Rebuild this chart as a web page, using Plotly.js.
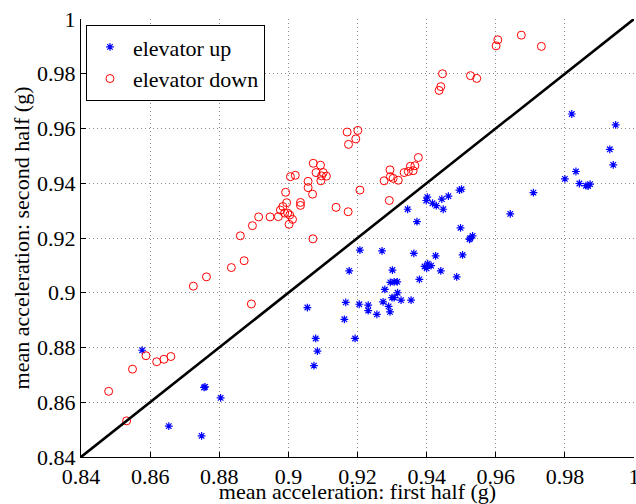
<!DOCTYPE html>
<html>
<head>
<meta charset="utf-8">
<script src="https://cdn.plot.ly/plotly-3.0.1.min.js"></script>
<style>
  html, body { margin: 0; padding: 0; background: #fff; }
  #chart { width: 636px; height: 504px; }
</style>
</head>
<body>
<div id="chart"></div>
<script>
// Mean acceleration in the first vs. second half of each elevator ride (g)
const upFirst = [
  0.8577, 0.8756, 0.8759, 0.8804, 0.8654, 0.8749, 0.9055, 0.9079, 0.9084, 0.9074,
  0.9176, 0.9166, 0.9162, 0.9193, 0.9205, 0.9231, 0.9231, 0.9256, 0.9274, 0.9279,
  0.9290, 0.9294, 0.9301, 0.9295, 0.9306, 0.9315, 0.9300, 0.9306, 0.9316, 0.9326,
  0.9355, 0.9379, 0.9400, 0.9403, 0.9413, 0.9394, 0.9426, 0.9441, 0.9487, 0.9504,
  0.9363, 0.9271, 0.9207, 0.9345, 0.9372, 0.9399, 0.9402, 0.9417, 0.9428, 0.9448,
  0.9444, 0.9463, 0.9495, 0.9501, 0.9498, 0.9526, 0.9533, 0.9524, 0.9642, 0.9709,
  0.9800, 0.9820, 0.9832, 0.9842, 0.9861, 0.9873, 0.9867, 0.9930, 0.9940, 0.9947
];
const upSecond = [
  0.8790, 0.8654, 0.8656, 0.8616, 0.8513, 0.8477, 0.8946, 0.8833, 0.8787, 0.8734,
  0.9080, 0.8965, 0.8903, 0.8833, 0.8958, 0.8955, 0.8935, 0.8921, 0.8967, 0.9012,
  0.8950, 0.8930, 0.9083, 0.9038, 0.9040, 0.9040, 0.8982, 0.8982, 0.9000, 0.8973,
  0.8973, 0.9049, 0.9089, 0.9106, 0.9099, 0.9096, 0.9135, 0.9080, 0.9058, 0.9138,
  0.9144, 0.9153, 0.9156, 0.9305, 0.9260, 0.9337, 0.9349, 0.9327, 0.9318, 0.9305,
  0.9342, 0.9353, 0.9375, 0.9378, 0.9237, 0.9199, 0.9208, 0.9195, 0.9288, 0.9366,
  0.9416, 0.9653, 0.9443, 0.9399, 0.9391, 0.9397, 0.9390, 0.9524, 0.9467, 0.9613
];
const downFirst = [
  0.8480, 0.8532, 0.8549, 0.8588, 0.8619, 0.8640, 0.8660, 0.8725, 0.8763, 0.8835,
  0.8872, 0.8893, 0.8861, 0.8896, 0.8914, 0.8947, 0.8971, 0.8977, 0.8984, 0.8995,
  0.8989, 0.8998, 0.9004, 0.9002, 0.9012, 0.8992, 0.9006, 0.9020, 0.9035, 0.9035,
  0.9057, 0.9057, 0.9070, 0.9072, 0.9080, 0.9071, 0.9093, 0.9101, 0.9110, 0.9096,
  0.9094, 0.9138, 0.9173, 0.9170, 0.9201, 0.9195, 0.9174, 0.9207, 0.9277, 0.9294,
  0.9295, 0.9303, 0.9318, 0.9292, 0.9335, 0.9347, 0.9353, 0.9366, 0.9361, 0.9376,
  0.9446, 0.9441, 0.9436, 0.9527, 0.9545, 0.9606, 0.9601, 0.9674, 0.9732
];
const downSecond = [
  0.8640, 0.8532, 0.8721, 0.8770, 0.8748, 0.8757, 0.8767, 0.9024, 0.9058, 0.9092,
  0.9117, 0.8959, 0.9208, 0.9245, 0.9277, 0.9277, 0.9278, 0.9302, 0.9315, 0.9329,
  0.9291, 0.9291, 0.9284, 0.9250, 0.9268, 0.9367, 0.9424, 0.9429, 0.9330, 0.9319,
  0.9407, 0.9384, 0.9360, 0.9473, 0.9439, 0.9197, 0.9466, 0.9439, 0.9426, 0.9427,
  0.9409, 0.9312, 0.9296, 0.9587, 0.9593, 0.9562, 0.9542, 0.9375, 0.9409, 0.9449,
  0.9424, 0.9418, 0.9411, 0.9337, 0.9439, 0.9443, 0.9462, 0.9464, 0.9446, 0.9494,
  0.9800, 0.9753, 0.9739, 0.9793, 0.9783, 0.9924, 0.9902, 0.9941, 0.9900
];
// y = x reference line
const equalX = [0.84, 1.0];
const equalY = [0.84, 1.0];

const tickValues = [0.84, 0.86, 0.88, 0.9, 0.92, 0.94, 0.96, 0.98, 1.0];
const tickLabels = ['0.84', '0.86', '0.88', '0.9', '0.92', '0.94', '0.96', '0.98', '1'];

const serif = { family: '"Liberation Serif", "Times New Roman", serif', size: 22, color: '#000' };

const traces = [
  {
    x: upFirst, y: upSecond, type: 'scatter', mode: 'markers', name: 'elevator up',
    marker: { symbol: 'asterisk-open', size: 6.5, color: '#0000ff', line: { color: '#0000ff', width: 1.2 } }
  },
  {
    x: downFirst, y: downSecond, type: 'scatter', mode: 'markers', name: 'elevator down',
    marker: { symbol: 'circle-open', size: 8, color: '#ff0000', line: { color: '#ff0000', width: 1 } }
  },
  {
    x: equalX, y: equalY, type: 'scatter', mode: 'lines', showlegend: false,
    line: { color: '#000', width: 2.6 }, hoverinfo: 'skip'
  }
];

const axisCommon = {
  range: [0.84, 1.0],
  tickmode: 'array',
  tickvals: tickValues,
  ticktext: tickLabels,
  ticks: 'inside',
  ticklen: 5,
  tickwidth: 1,
  tickcolor: '#000',
  ticklabeloverflow: 'allow',
  showline: true,
  linecolor: '#000',
  linewidth: 1,
  showgrid: true,
  gridcolor: '#8c8c8c',
  gridwidth: 1,
  griddash: '1px,3px',
  zeroline: false,
  tickfont: serif,
  automargin: false
};

const layout = {
  width: 636,
  height: 504,
  margin: { l: 81, r: 2, t: 19, b: 47, pad: 0 },
  paper_bgcolor: '#fff',
  plot_bgcolor: '#fff',
  font: serif,
  showlegend: true,
  legend: {
    x: 0.009, y: 0.986, xanchor: 'left', yanchor: 'top',
    bgcolor: '#fff', bordercolor: '#000', borderwidth: 1,
    font: serif, itemwidth: 36, tracegroupgap: 0
  },
  xaxis: Object.assign({}, axisCommon, {
    title: { text: 'mean acceleration: first half (g)', font: serif, standoff: 8 }
  }),
  yaxis: Object.assign({}, axisCommon, {
    title: { text: 'mean acceleration: second half (g)', font: serif, standoff: 1 }
  })
};

Plotly.newPlot('chart', traces, layout, { displayModeBar: false, staticPlot: true });
</script>
</body>
</html>
